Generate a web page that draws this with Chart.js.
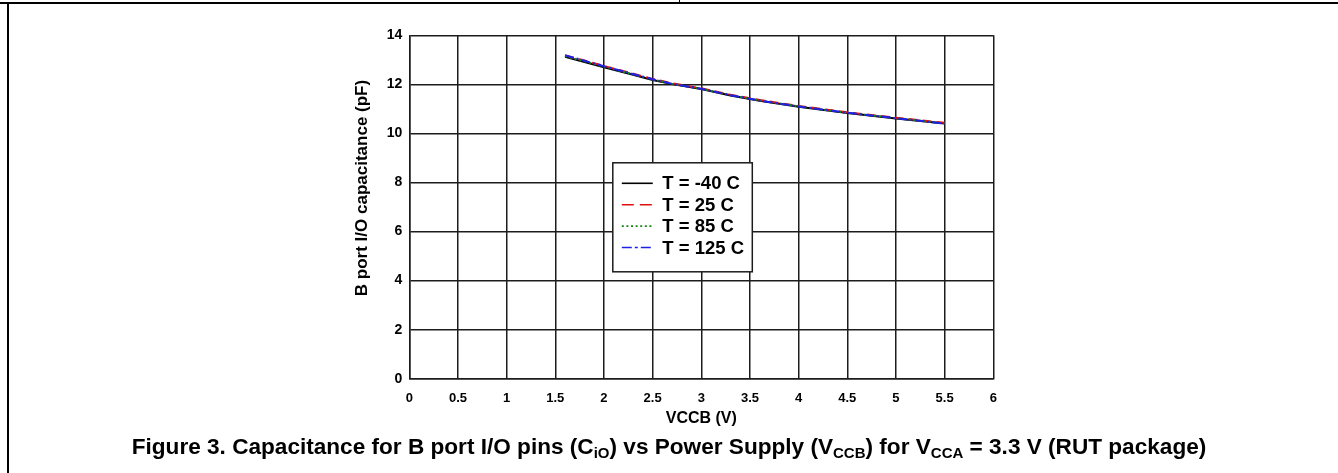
<!DOCTYPE html>
<html>
<head>
<meta charset="utf-8">
<script src="https://cdn.jsdelivr.net/npm/chart.js@4.4.0/dist/chart.umd.min.js"></script>
<style>
html, body { margin: 0; padding: 0; background: #fff; }
#wrap { position: relative; width: 1338px; height: 473px; overflow: hidden; }
#chart { position: absolute; left: 0; top: 0; }
.rule { position: absolute; background: #000; }
#caption {
  position: absolute; left: 0; top: 434px; width: 1338px; text-align: center; line-height: 26px;
  font: bold 22.6px "Liberation Sans", Arial, sans-serif; color: #000; white-space: nowrap;
}
#caption sub { font-size: 15px; vertical-align: -4px; line-height: 0; }
</style>
</head>
<body>
<div id="wrap">
  <canvas id="chart" width="1338" height="473"></canvas>
  <div class="rule" style="left:0;top:2px;width:1338px;height:2px"></div>
  <div class="rule" style="left:7px;top:2px;width:2px;height:471px"></div>
  <div class="rule" style="left:679px;top:0;width:1px;height:3px"></div>
  <div id="caption">Figure 3. Capacitance for B port I/O pins (C<sub>iO</sub>) vs Power Supply (V<sub>CCB</sub>) for V<sub>CCA</sub> = 3.3 V (RUT package)</div>
</div>
<script>
// values
var vccb = [1.6, 1.8, 2.0, 2.25, 2.5, 2.7, 3.0, 3.3, 3.6, 4.0, 4.5, 5.0, 5.5];
var capM40 = [13.12, 12.91, 12.70, 12.44, 12.18, 12.01, 11.81, 11.55, 11.33, 11.09, 10.83, 10.61, 10.40];
var cap25 = [13.18, 12.97, 12.75, 12.49, 12.22, 12.04, 11.84, 11.58, 11.36, 11.12, 10.86, 10.64, 10.43];
var cap85 = [13.15, 12.94, 12.72, 12.46, 12.20, 12.02, 11.82, 11.56, 11.34, 11.10, 10.84, 10.62, 10.41];
var cap125 = [13.19, 12.96, 12.74, 12.47, 12.21, 12.02, 11.82, 11.56, 11.34, 11.10, 10.84, 10.62, 10.40];
var seriesNames = ['T = -40 C', 'T = 25 C', 'T = 85 C', 'T = 125 C'];
var yTitle = 'B port I/O capacitance (pF)';
var xTitle = 'VCCB (V)';

var FONT = '"Liberation Sans", Arial, sans-serif';
var gridCol = '#1c1c1c';

function pts(ys) {
  return vccb.map(function (v, i) { return { x: v, y: ys[i] }; });
}

function ds(label, ys, color, dash, order) {
  return {
    label: label, data: pts(ys), borderColor: color, backgroundColor: color,
    borderWidth: 2, borderDash: dash, pointRadius: 0, tension: 0, fill: false, order: order
  };
}

// legend box inside the plot + rotated y title
var extras = {
  id: 'extras',
  afterDraw: function (chart) {
    var ctx = chart.ctx, a = chart.chartArea;
    ctx.save();
    ctx.translate(362, 188);
    ctx.rotate(-Math.PI / 2);
    ctx.font = 'bold 17px ' + FONT;
    ctx.fillStyle = '#000';
    ctx.textAlign = 'center';
    ctx.textBaseline = 'middle';
    ctx.fillText(yTitle, 0, 0);
    ctx.restore();

    var bx = a.left + 203.5, by = a.top + 127.5, bw = 139.5, bh = 109;
    ctx.save();
    ctx.fillStyle = '#fff';
    ctx.fillRect(bx, by, bw, bh);
    ctx.lineWidth = 1.5;
    ctx.strokeStyle = gridCol;
    ctx.strokeRect(bx, by, bw, bh);
    ctx.font = 'bold 18.5px ' + FONT;
    ctx.textBaseline = 'middle';
    chart.data.datasets.forEach(function (d, i) {
      var yy = by + 20.5 + i * 21.4;
      ctx.beginPath();
      ctx.setLineDash(d.legendDash);
      ctx.lineWidth = 1.6;
      ctx.strokeStyle = d.borderColor;
      ctx.moveTo(bx + 9, yy);
      ctx.lineTo(bx + 40, yy);
      ctx.stroke();
      ctx.setLineDash([]);
      ctx.fillStyle = '#000';
      ctx.fillText(d.label, bx + 49.5, yy + 1);
    });
    ctx.restore();
  }
};

var sets = [
  ds(seriesNames[0], capM40, '#000000', [], 3),
  ds(seriesNames[1], cap25, '#e01010', [9, 5], 2),
  ds(seriesNames[2], cap85, '#108a10', [2, 3], 1),
  ds(seriesNames[3], cap125, '#2020e6', [9, 3, 2, 3], 0)
];
sets[0].legendDash = [];
sets[1].legendDash = [12, 6];
sets[2].legendDash = [2, 2.6];
sets[3].legendDash = [10, 3, 3, 3];

new Chart(document.getElementById('chart'), {
  type: 'line',
  data: { datasets: sets },
  options: {
    responsive: false,
    animation: false,
    devicePixelRatio: 1,
    layout: { padding: { left: 340, right: 344.7, top: 35.3, bottom: 44.4 } },
    plugins: { legend: { display: false }, tooltip: { enabled: false } },
    scales: {
      x: {
        type: 'linear', min: 0, max: 6,
        ticks: {
          stepSize: 0.5, color: '#000', padding: 12, font: { family: FONT, size: 13, weight: 'bold' },
          callback: function (v) { return String(Math.round(v * 10) / 10); }
        },
        grid: { color: gridCol, lineWidth: 1.5, drawTicks: false },
        border: { color: gridCol, width: 1.5 },
        title: { display: true, text: xTitle, color: '#000', padding: 0, font: { family: FONT, size: 16, weight: 'bold' } },
        afterFit: function (s) { s.height = 49.9; }
      },
      y: {
        type: 'linear', min: 0, max: 14,
        ticks: { stepSize: 2, color: '#000', padding: 7, font: { family: FONT, size: 14, weight: 'bold' } },
        grid: { color: gridCol, lineWidth: 1.5, drawTicks: false },
        border: { color: gridCol, width: 1.5 },
        afterFit: function (s) { s.width = 69.3; }
      }
    }
  },
  plugins: [extras]
});
</script>
</body>
</html>
